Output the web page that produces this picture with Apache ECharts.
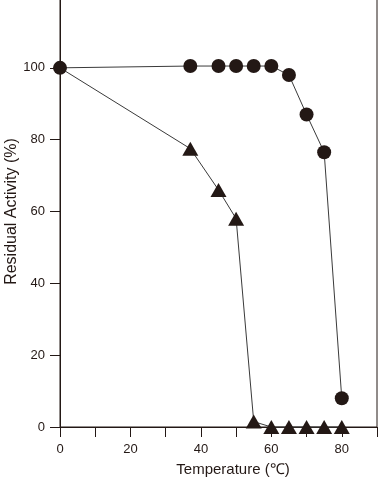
<!DOCTYPE html>
<html><head><meta charset="utf-8">
<script src="https://cdn.jsdelivr.net/npm/echarts@6/dist/echarts.min.js"></script>
<style>html,body{margin:0;padding:0;background:#fff}#c{width:381px;height:487px}</style>
</head><body><div id="c"></div>
<script>
const temps = [0, 37, 45, 50, 55, 60, 65, 70, 75, 80];
const circleValues = [100, 100.5, 100.5, 100.5, 100.5, 100.5, 98, 87, 76.5, 8];
const triangleValues = [100, 77.5, 66, 58, 1.5, 0, 0, 0, 0, 0];
const xName = 'Temperature (℃)';
const yName = 'Residual Activity (%)';
const ink = '#231815';
const font = 'Liberation Sans, Arial, Helvetica, sans-serif';

const chart = echarts.init(document.getElementById('c'), null, {renderer: 'canvas'});
chart.setOption({
  animation: false,
  backgroundColor: '#fff',
  grid: {left: 60, right: 4, top: -4, bottom: 60, containLabel: false, outerBoundsMode: 'none',
    show: true, borderColor: ink, borderWidth: 1, backgroundColor: 'transparent'},
  xAxis: {
    type: 'value', min: 0, max: 90, interval: 10,
    name: xName, nameLocation: 'middle', nameGap: 35, nameMoveOverlap: false,
    nameTextStyle: {color: ink, fontSize: 15, fontFamily: font, padding: [0, 0, 0, 29]},
    axisLine: {show: true, lineStyle: {color: ink, width: 1}},
    axisTick: {show: true, inside: false, length: 10, lineStyle: {color: ink}},
    axisLabel: {color: ink, fontSize: 13, fontFamily: font, margin: 16,
      formatter: v => (v % 20 === 0 && v <= 80) ? String(v) : ''},
    splitLine: {show: false}
  },
  yAxis: {
    type: 'value', min: 0, max: 120, interval: 20,
    name: yName, nameLocation: 'middle', nameGap: 40, nameMoveOverlap: false,
    nameTextStyle: {color: ink, fontSize: 16, fontFamily: font},
    axisLine: {show: true, lineStyle: {color: ink, width: 1}},
    axisTick: {show: true, inside: false, length: 10, lineStyle: {color: ink}},
    axisLabel: {color: ink, fontSize: 13, fontFamily: font, margin: 15,
      formatter: v => v <= 100 ? String(v) : ''},
    splitLine: {show: false}
  },
  series: [
    {
      type: 'line', clip: false, z: 2,
      data: temps.map((t, i) => triangleValues[i] === circleValues[i]
        ? {value: [t, triangleValues[i]], symbol: 'none'}
        : [t, triangleValues[i]]),
      symbol: 'triangle', symbolSize: [16, 14],
      itemStyle: {color: ink},
      lineStyle: {color: '#3a3a3a', width: 1}
    },
    {
      type: 'line', clip: false, z: 3,
      data: temps.map((t, i) => [t, circleValues[i]]),
      symbol: 'circle', symbolSize: 14,
      itemStyle: {color: ink},
      lineStyle: {color: '#3a3a3a', width: 1}
    }
  ]
});
</script>
</body></html>
